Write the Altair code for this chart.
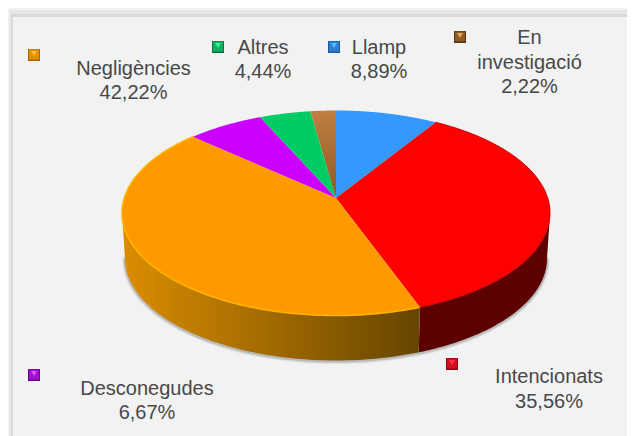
import numpy as np
import pandas as pd
import altair as alt

# ---- chart values (clockwise from 12 o'clock) ----
categories = ["Llamp", "Intencionats", "Negligències", "Desconegudes", "Altres", "En investigació"]
shares = [8.89, 35.56, 42.22, 6.67, 4.44, 2.22]
share_labels = ["8,89%", "35,56%", "42,22%", "6,67%", "4,44%", "2,22%"]
name_lines = [["Llamp"], ["Intencionats"], ["Negligències"], ["Desconegudes"], ["Altres"], ["En", "investigació"]]
colors = ["#3399ff", "#ff0000", "#ff9900", "#cc00ff", "#00cc66", "#b5763a"]

# ---- layout (page pixels) ----
W, H = 619, 428
CX, TOP_CY, RX, RY = 336, 213, 214, 102.5
BOT_CY, BOT_RX, BOT_RY = 258.5, 211, 102
TILT = 0.147
label_cx = [379, 549, 133.5, 147, 263, 529.5]
label_base = [54, 383, 75, 395, 54, 44]
line_steps = [[0, 24], [0, 25], [0, 24], [0, 24], [0, 24], [0, 25, 49]]
key_x = [328, 446, 28, 28, 212, 454]
key_y = [41, 358, 49, 369, 41, 31]
key_base = ["#1c5c9c", "#8a0a14", "#a86400", "#6a0090", "#0a7040", "#5a3212"]
key_mid = ["#2c80d0", "#d01020", "#e09000", "#a010d0", "#10b060", "#8a5a28"]
key_light = ["#50c0ff", "#ff3040", "#ffc030", "#e850ff", "#38f098", "#f0a050"]
band_x = [(8, 9, "#f4f4f4"), (9, 11, "#e6e6e6"), (11, 13, "#dadada")]
band_y = [(8, 10, "#f0f0f0"), (10, 14, "#e6e6e6"), (14, 17, "#d8d8d8")]

xs = alt.Scale(domain=[8, 8 + W], range=[0, W], nice=False, zero=False)
ys = alt.Scale(domain=[8, 8 + H], range=[0, H], nice=False, zero=False)
X = lambda f="x": alt.X(f"{f}:Q", scale=xs, axis=None)
Y = lambda f="y": alt.Y(f"{f}:Q", scale=ys, axis=None)


def rim(theta):
    """Map a pie angle to the perspective ellipse of the top face."""
    sx, cy = np.sin(theta), np.cos(theta)
    d = 1 + TILT * cy
    return CX + RX * sx * np.sqrt(1 - TILT**2) / d, TOP_CY - RY * (cy + TILT) / d


def poly(px, py, fill, stroke=None, sw=0.6, opacity=None):
    df = pd.DataFrame({"x": px, "y": py, "o": np.arange(len(px))})
    kw = dict(fill=fill, interpolate="linear", strokeWidth=sw, stroke=stroke or "transparent")
    return alt.Chart(df).mark_line(**kw).encode(x=X(), y=Y(), order="o:Q")


def stroke_line(px, py, color, sw, opacity=1.0):
    df = pd.DataFrame({"x": px, "y": py, "o": np.arange(len(px))})
    return alt.Chart(df).mark_line(color=color, strokeWidth=sw, opacity=opacity, strokeCap="round").encode(
        x=X(), y=Y(), order="o:Q")


def wall(t0, t1, fill):
    ts = np.linspace(t0, t1, 90)
    tx, ty = rim(ts)
    # lower rim follows the same ellipse parameter as the upper one
    u = np.arctan2((tx - CX) / RX, (TOP_CY - ty) / RY)
    bx = CX + BOT_RX * np.sin(u)
    by = BOT_CY - BOT_RY * np.cos(u)
    return poly(np.r_[tx, bx[::-1], tx[0]], np.r_[ty, by[::-1], ty[0]], fill, sw=0), bx, by


layers = []

# frame
for x0, x1, c in band_y:
    layers.append(alt.Chart(pd.DataFrame({"a": [x0], "b": [x1], "l": [8], "r": [8 + W]}))
                  .mark_rect(color=c).encode(x=X("l"), x2="r:Q", y=Y("a"), y2="b:Q"))
for x0, x1, c in band_x:
    layers.append(alt.Chart(pd.DataFrame({"a": [x0], "b": [x1], "t": [14 if x0 > 8 else 8], "u": [8 + H]}))
                  .mark_rect(color=c).encode(x=X("a"), x2="b:Q", y=Y("t"), y2="u:Q"))

# slice boundaries as angles
edges = np.r_[0, np.cumsum(shares)] / np.sum(shares) * 2 * np.pi
split = edges[2]  # Intencionats | Negligències
ts = np.linspace(split, 2 * np.pi, 600)
left_extreme = ts[np.argmin(rim(ts)[0])]
ts = np.linspace(0, split, 600)
right_extreme = ts[np.argmax(rim(ts)[0])]

orange_grad = alt.Gradient(gradient="linear", x1=0, x2=1, y1=0, y2=0,
                           stops=[alt.GradientStop(offset=0, color="#db8d00"),
                                  alt.GradientStop(offset=1, color="#664500")])
wall_o, box, boy = wall(split, left_extreme, orange_grad)
wall_r, brx, bry = wall(right_extreme, split, "#5c0000")

# soft shadow under the wall
sx = np.r_[brx, box]
sy = np.r_[bry, boy]
for w, op in [(6, 0.07), (4, 0.12), (2.5, 0.2)]:
    layers.append(stroke_line(sx, sy + 0.8, "#555555", w, op))
layers += [wall_r, wall_o]

# top faces
for i, cat in enumerate(categories):
    t = np.linspace(edges[i], edges[i + 1], 80)
    px, py = rim(t)
    apex_x, apex_y = CX, TOP_CY - RY * TILT
    fill = colors[i]
    if cat == "En investigació":
        fill = alt.Gradient(gradient="linear", x1=0, x2=0, y1=0, y2=1,
                            stops=[alt.GradientStop(offset=0, color="#c07f40"),
                                   alt.GradientStop(offset=1, color="#8a5a28")])
    layers.append(poly(np.r_[apex_x, px, apex_x], np.r_[apex_y, py, apex_y], fill,
                       stroke=None, sw=0))

# rim highlights
t = np.linspace(edges[2], edges[3], 200)
px, py = rim(t)
layers.append(stroke_line(px, py, "#ffb400", 1.6))
t = np.linspace(edges[1], edges[2], 200)
px, py = rim(t)
layers.append(stroke_line(px, py, "#c80000", 1.0))

# legend keys
keys = pd.DataFrame({"cat": categories, "x": key_x, "y": key_y, "base": key_base,
                     "mid": key_mid, "light": key_light})
keys["x2"] = keys.x + 12
keys["y2"] = keys.y + 12
keys["ix"], keys["ix2"] = keys.x + 1, keys.x + 11
keys["iy"], keys["iy2"] = keys.y + 0.5, keys.y + 10.5
keys["tx"], keys["ty"] = keys.x + 6, keys.y + 4.5
layers.append(alt.Chart(keys).mark_rect().encode(x=X("x"), x2="x2:Q", y=Y("y"), y2="y2:Q",
                                                 color=alt.Color("base:N", scale=None)))
layers.append(alt.Chart(keys).mark_rect().encode(x=X("ix"), x2="ix2:Q", y=Y("iy"), y2="iy2:Q",
                                                 color=alt.Color("mid:N", scale=None)))
layers.append(alt.Chart(keys).mark_point(shape="triangle-down", filled=True, size=36, opacity=1).encode(
    x=X("tx"), y=Y("ty"), color=alt.Color("light:N", scale=None)))

# labels
rows = []
for i, cat in enumerate(categories):
    lines = name_lines[i] + [share_labels[i]]
    for ln, step in zip(lines, line_steps[i]):
        rows.append({"x": label_cx[i], "y": label_base[i] + step, "text": ln})
layers.append(alt.Chart(pd.DataFrame(rows)).mark_text(
    font="Liberation Sans", fontSize=20, color="#484848", align="center", baseline="alphabetic"
).encode(x=X(), y=Y(), text="text:N"))

chart = alt.layer(*layers).properties(
    width=W, height=H, padding=0, background="#f2f2f2",
    autosize=alt.AutoSizeParams(type="none"),
).configure_view(stroke=None)

chart.save("out.html", embed_options={"renderer": "svg", "actions": False})
